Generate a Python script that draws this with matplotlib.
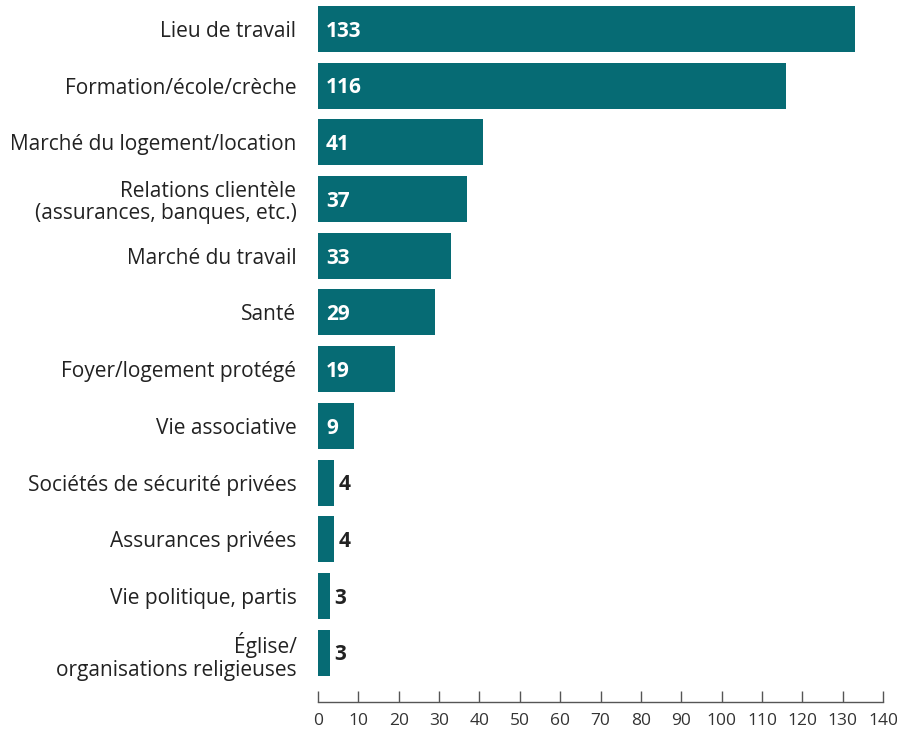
import matplotlib
matplotlib.use("Agg")
import matplotlib.pyplot as plt

categories = [
    "Lieu de travail",
    "Formation/école/crèche",
    "Marché du logement/location",
    "Relations clientèle\n(assurances, banques, etc.)",
    "Marché du travail",
    "Santé",
    "Foyer/logement protégé",
    "Vie associative",
    "Sociétés de sécurité privées",
    "Assurances privées",
    "Vie politique, partis",
    "Église/\norganisations religieuses",
]
values = [133, 116, 41, 37, 33, 29, 19, 9, 4, 4, 3, 3]
xticks = list(range(0, 141, 10))

plt.rcParams['font.family'] = ['Open Sans', 'DejaVu Sans']
color = "#066b74"

fig = plt.figure(figsize=(8.97, 7.31), dpi=100)
ax = fig.add_axes([318/897, 29/731, (883-318)/897, (731-29)/731])

pos = list(range(len(values)))
ax.barh(pos, values, height=0.81, color=color)
ax.set_xlim(0, 140)
ax.set_ylim(11.87, -0.51)
ax.set_yticks(pos)
ax.set_yticklabels(categories, fontsize=15, color="#222222", linespacing=1.12)
ax.tick_params(axis='y', length=0, pad=15.5)
ax.set_xticks(xticks)
ax.set_xticklabels([str(t) for t in xticks], fontsize=12.5, color="#333333")
ax.tick_params(axis='x', direction='in', length=8, width=1, color="#555555", pad=8)

for s in ["top", "right", "left"]:
    ax.spines[s].set_visible(False)
ax.spines["bottom"].set_color("#555555")
ax.spines["bottom"].set_linewidth(1)

for p, v in zip(pos, values):
    if v >= 9:
        ax.text(2, p + 0.04, str(v), va="center", ha="left", color="white",
                fontsize=15, fontweight="bold")
    else:
        ax.text(v + 1, p + 0.04, str(v), va="center", ha="left", color="#222222",
                fontsize=15, fontweight="bold")

fig.savefig("out.png", dpi=100)
